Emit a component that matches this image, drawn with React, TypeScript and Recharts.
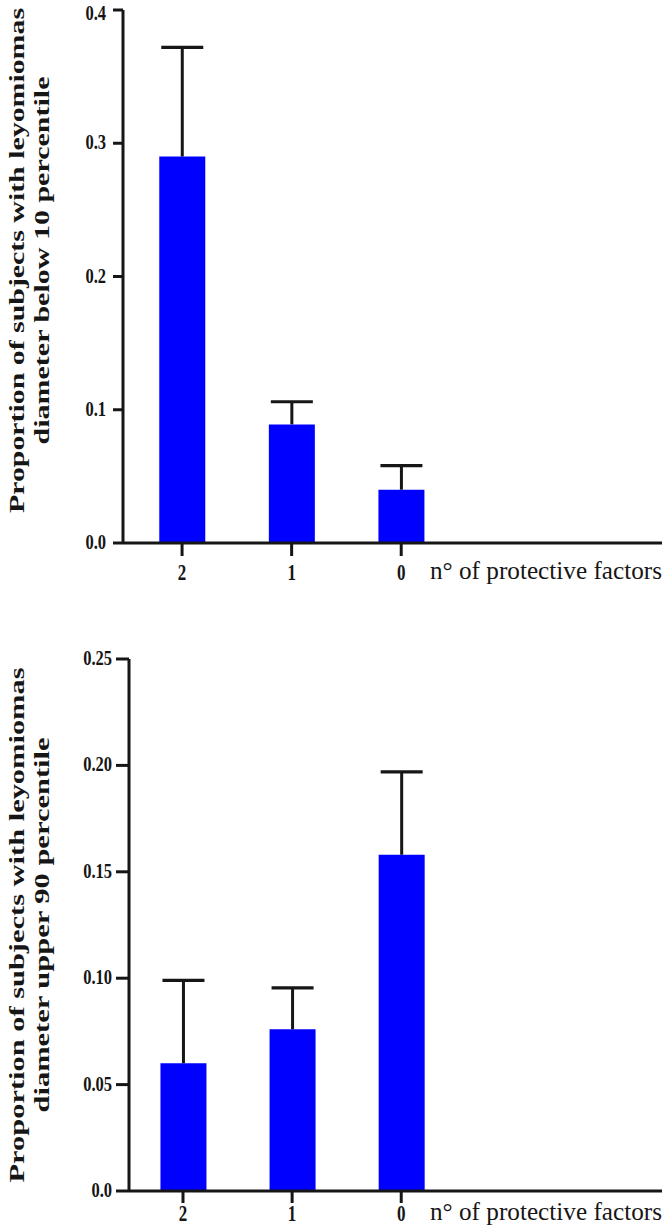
import React from 'react';
import { BarChart, Bar, XAxis, YAxis } from 'recharts';

// ---- data ----
const categories = ['2', '1', '0'];
const positions = [0, 1, 2];
const belowValues = [0.29, 0.089, 0.040];
const belowErrors = [0.082, 0.017, 0.018];
const upperValues = [0.060, 0.076, 0.158];
const upperErrors = [0.039, 0.0195, 0.039];
const belowTicks = [0, 0.1, 0.2, 0.3, 0.4];
const upperTicks = [0, 0.05, 0.1, 0.15, 0.2, 0.25];
const xTitle = 'n\u00B0 of protective factors';
const belowTitle = ['Proportion of subjects with leyomiomas', 'diameter below 10 percentile'];
const upperTitle = ['Proportion of subjects with leyomiomas', 'diameter upper 90 percentile'];

const belowData = positions.map((p, i) => ({ pos: p, value: belowValues[i], err: belowErrors[i] }));
const upperData = positions.map((p, i) => ({ pos: p, value: upperValues[i], err: upperErrors[i] }));

const SERIF = 'Liberation Serif';
const INK = '#161616';
const BLUE = '#0000FF';
const STRETCH = 1.3;

const ErrorT = (props: any) => {
  const { x, y, width, height } = props;
  if (x == null || y == null) return null;
  const cx = x + width / 2;
  const half = 21;
  return (
    <g>
      <line x1={cx} y1={y + height} x2={cx} y2={y} stroke={INK} strokeWidth={3} />
      <line x1={cx - half} y1={y} x2={cx + half} y2={y} stroke={INK} strokeWidth={3.2} />
    </g>
  );
};

// horizontal text, vertically stretched like the reference picture
const TallText = ({ x, y, anchor, size, bold, children, length }: any) => (
  <g transform={`translate(${x}, ${y}) scale(1, ${STRETCH})`}>
    <text x={0} y={0} textAnchor={anchor} fontFamily={SERIF} fontWeight={bold ? 'bold' : 'normal'} fontSize={size} fill={INK}
      {...(length ? { textLength: length, lengthAdjust: 'spacingAndGlyphs' } : {})}>
      {children}
    </text>
  </g>
);

const makeXTick = (baseline: number) => (props: any) => {
  const { x, payload } = props;
  return (
    <TallText x={x} y={baseline} anchor="middle" size={17} bold>
      {categories[payload.value]}
    </TallText>
  );
};

const makeYTick = (fmt: (v: number) => string, gap: number) => (props: any) => {
  const { x, y, payload } = props;
  return (
    <TallText x={x - gap} y={Math.max(y + 6, 20)} anchor="end" size={16.5} bold>
      {fmt(payload.value)}
    </TallText>
  );
};

const makeXTitle = (dy: number) => (props: any) => {
  const vb = props.viewBox || {};
  return (
    <TallText x={vb.x + vb.width} y={vb.y + dy} anchor="end" size={20} length={232}>
      {xTitle}
    </TallText>
  );
};

const makeYTitle = (lines: string[], cyOffset: number, lens: number[]) => (props: any) => {
  const vb = props.viewBox || {};
  const cy = vb.y + vb.height / 2 + cyOffset;
  const xs = [24, 49];
  return (
    <g>
      {lines.map((t, i) => (
        <text key={i} x={xs[i]} y={cy} transform={`rotate(-90, ${xs[i]}, ${cy})`} textAnchor="middle"
          fontFamily={SERIF} fontWeight="bold" fontSize={20} fill={INK}
          textLength={lens[i]} lengthAdjust="spacingAndGlyphs">
          {t}
        </text>
      ))}
    </g>
  );
};

const fmtBelow = (v: number) => v.toFixed(1);
const fmtUpper = (v: number) => (v === 0 ? '0.0' : v.toFixed(2));

export default function App() {
  return (
    <div style={{ position: 'absolute', left: 0, top: 0, width: 666, height: 1226, background: '#fff', overflow: 'hidden' }}>
      <div style={{ position: 'absolute', left: 0, top: 0 }}>
        <BarChart width={666} height={600} data={belowData} margin={{ top: 10, right: 4, bottom: 17, left: 0 }} barSize={46}>
          <XAxis
            type="number"
            dataKey="pos"
            domain={[-0.539, 4.38]}
            ticks={positions}
            allowDataOverflow
            height={40}
            stroke={INK}
            strokeWidth={3}
            tickSize={13}
            tickLine={{ stroke: INK, strokeWidth: 3 }}
            tick={makeXTick(580)}
            label={{ content: makeXTitle(36) }}
          />
          <YAxis
            type="number"
            domain={[0, 0.4]}
            ticks={belowTicks}
            width={123}
            stroke={INK}
            strokeWidth={3}
            tickSize={10}
            tickLine={{ stroke: INK, strokeWidth: 3 }}
            tick={makeYTick(fmtBelow, 5)}
            label={{ content: makeYTitle(belowTitle, -16, [505, 368]) }}
          />
          <Bar dataKey="value" stackId="s" fill={BLUE} isAnimationActive={false} />
          <Bar dataKey="err" stackId="s" shape={ErrorT} isAnimationActive={false} />
        </BarChart>
      </div>
      <div style={{ position: 'absolute', left: 0, top: 620 }}>
        <BarChart width={666} height={606} data={upperData} margin={{ top: 39, right: 4, bottom: 5, left: 0 }} barSize={46}>
          <XAxis
            type="number"
            dataKey="pos"
            domain={[-0.495, 4.39]}
            ticks={positions}
            allowDataOverflow
            height={30}
            stroke={INK}
            strokeWidth={3}
            tickSize={12}
            tickLine={{ stroke: INK, strokeWidth: 3 }}
            tick={makeXTick(601)}
            label={{ content: makeXTitle(29) }}
          />
          <YAxis
            type="number"
            domain={[0, 0.25]}
            ticks={upperTicks}
            width={129}
            stroke={INK}
            strokeWidth={3}
            tickSize={13}
            tickLine={{ stroke: INK, strokeWidth: 3 }}
            tick={makeYTick(fmtUpper, 2)}
            label={{ content: makeYTitle(upperTitle, 0, [515, 375]) }}
          />
          <Bar dataKey="value" stackId="s" fill={BLUE} isAnimationActive={false} />
          <Bar dataKey="err" stackId="s" shape={ErrorT} isAnimationActive={false} />
        </BarChart>
      </div>
    </div>
  );
}
